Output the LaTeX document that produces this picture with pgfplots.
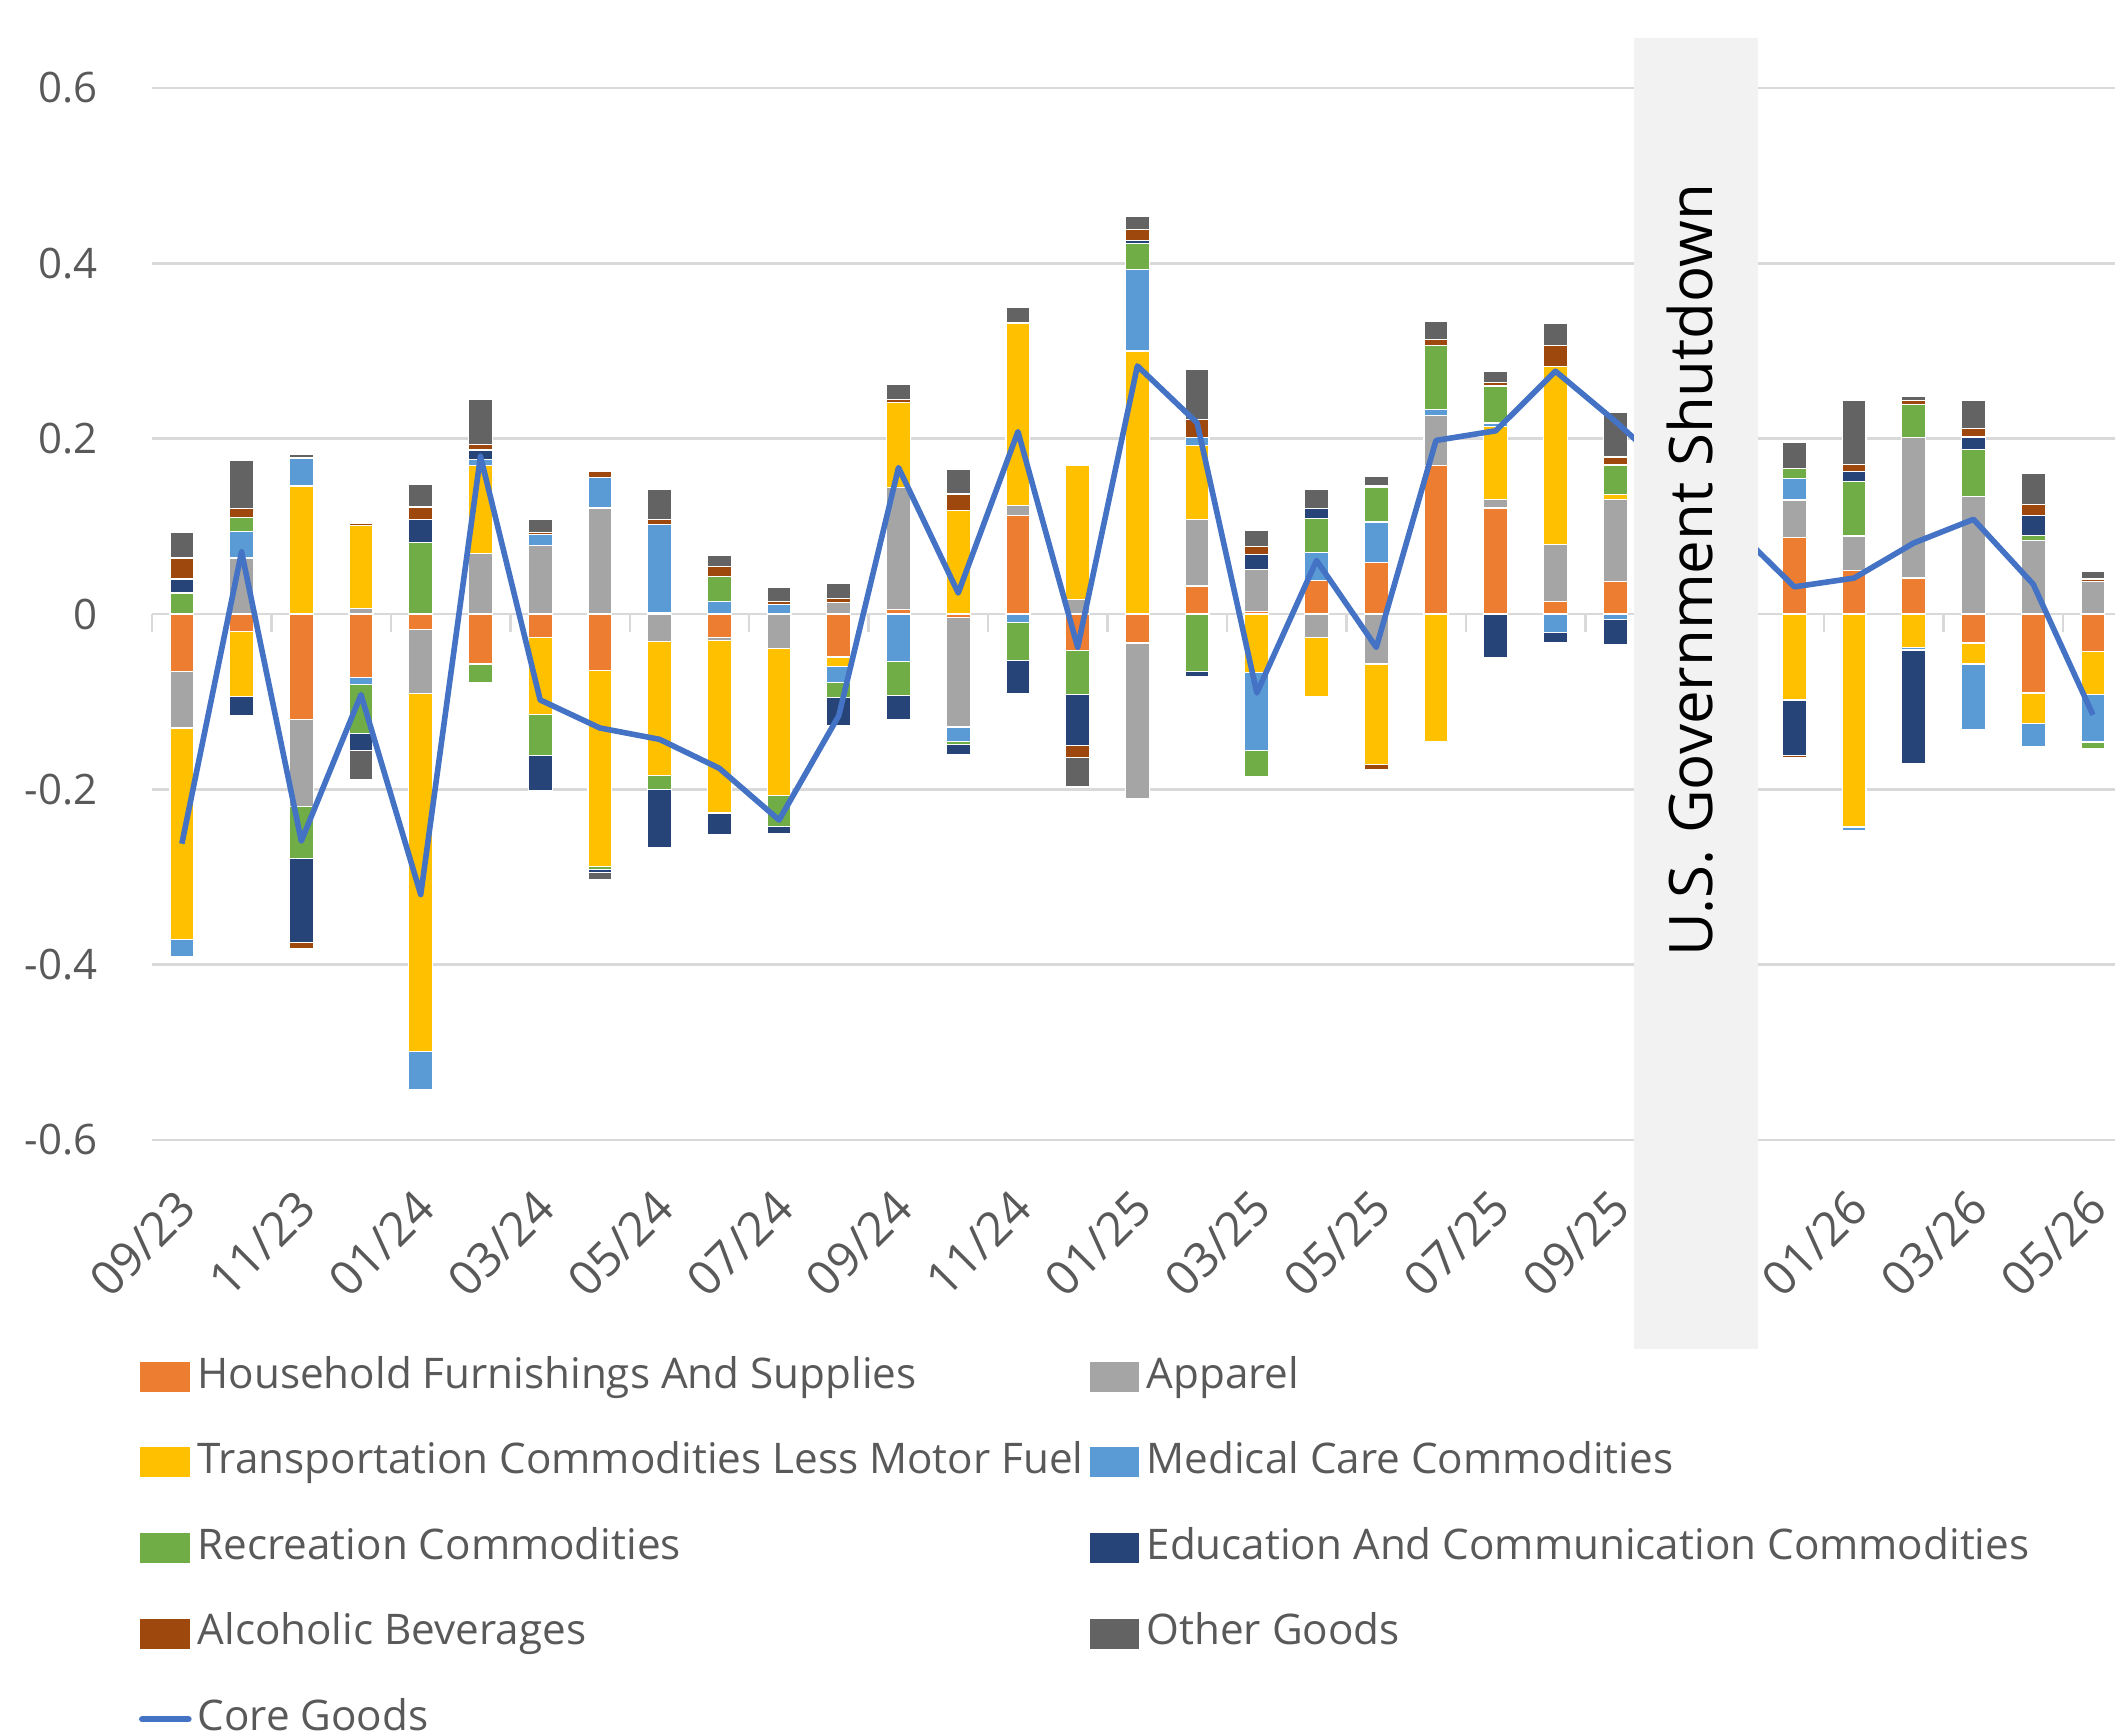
\documentclass[border=0pt]{standalone}
\usepackage{pgfplots}
\pgfplotsset{compat=1.18}
\usepackage{pgfplotstable}
\usepackage{fontspec}
\setmainfont{Open Sans}

\definecolor{cHF}{HTML}{ED7D31}
\definecolor{cAP}{HTML}{A5A5A5}
\definecolor{cTR}{HTML}{FFC000}
\definecolor{cMC}{HTML}{5B9BD5}
\definecolor{cRC}{HTML}{70AD47}
\definecolor{cED}{HTML}{264478}
\definecolor{cAL}{HTML}{9E480E}
\definecolor{cOT}{HTML}{636363}
\definecolor{coreblue}{HTML}{4472C4}
\definecolor{gridgray}{HTML}{D9D9D9}
\definecolor{labelgray}{HTML}{595959}
\definecolor{shutgray}{HTML}{F2F2F2}

% contributions to core goods CPI (pp), 09/23 = 0 ... 05/26 = 32
\pgfplotstableread{
x hf ap tr mc rc ed al ot core
0 -0.066 -0.064 -0.241 -0.020 0.024 0.016 0.024 0.029 -0.262
1 -0.020 0.064 -0.074 0.030 0.016 -0.022 0.010 0.055 0.071
2 -0.120 -0.100 0.146 0.032 -0.059 -0.096 -0.007 0.004 -0.259
3 -0.072 0.006 0.095 -0.008 -0.056 -0.020 0.002 -0.033 -0.092
4 -0.018 -0.073 -0.408 -0.044 0.082 0.026 0.014 0.026 -0.320
5 -0.057 0.069 0.100 0.007 -0.021 0.011 0.006 0.052 0.180
6 -0.027 0.078 -0.088 0.013 -0.046 -0.041 0.002 0.015 -0.098
7 -0.064 0.121 -0.224 0.035 -0.003 -0.004 0.007 -0.008 -0.130
8 0.002 -0.031 -0.153 0.100 -0.016 -0.066 0.006 0.034 -0.143
9 -0.027 -0.003 -0.197 0.014 0.029 -0.025 0.011 0.013 -0.176
10 0 -0.039 -0.168 0.011 -0.035 -0.009 0.003 0.016 -0.235
11 -0.049 0.013 -0.011 -0.018 -0.017 -0.032 0.005 0.017 -0.116
12 0.005 0.139 0.097 -0.054 -0.039 -0.027 0.004 0.017 0.167
13 -0.004 -0.125 0.118 -0.016 -0.004 -0.011 0.019 0.028 0.024
14 0.112 0.012 0.208 -0.010 -0.043 -0.038 0 0.018 0.208
15 -0.042 0.017 0.152 0 -0.050 -0.058 -0.014 -0.033 -0.038
16 -0.033 -0.177 0.300 0.093 0.030 0.003 0.013 0.015 0.283
17 0.032 0.076 0.084 0.009 -0.066 -0.005 0.021 0.057 0.218
18 0.003 0.048 -0.067 -0.089 -0.030 0.017 0.009 0.018 -0.090
19 0.038 -0.027 -0.067 0.032 0.039 0.011 0 0.022 0.061
20 0.059 -0.057 -0.115 0.046 0.040 0.001 -0.005 0.011 -0.038
21 0.169 0.057 -0.145 0.007 0.073 0 0.007 0.021 0.198
22 0.121 0.010 0.083 0.004 0.042 -0.050 0.004 0.013 0.209
23 0.014 0.065 0.203 -0.021 0 -0.012 0.024 0.025 0.277
24 0.037 0.094 0.005 -0.006 0.034 -0.029 0.009 0.051 0.220
25 0 0 0 0 0 0 0 0 0.158
26 0 0 0 0 0 0 0 0 0.098
27 0.087 0.043 -0.098 0.025 0.011 -0.063 -0.003 0.030 0.031
28 0.050 0.039 -0.243 -0.004 0.062 0.012 0.008 0.073 0.041
29 0.041 0.160 -0.038 -0.003 0.038 -0.130 0.005 0.004 0.081
30 -0.033 0.134 -0.024 -0.075 0.054 0.014 0.010 0.032 0.108
31 -0.090 0.084 -0.035 -0.026 0.006 0.022 0.013 0.035 0.034
32 -0.043 0.037 -0.049 -0.054 -0.007 0 0.003 0.009 -0.115
}\goods

\pgfplotsset{
  base/.style={
    scale only axis, width=490.75pt, height=263pt,
    at={(0,0)}, anchor=south west,
    xmin=-0.5, xmax=32.37, ymin=-0.6, ymax=0.6,
  },
  seg/.style={fill=#1, draw=white, line width=0.3pt},
}

\begin{document}
\begin{tikzpicture}
\useasboundingbox (-38pt,-148.5pt) rectangle (490.75pt,285pt);

% positive parts, grid, labels, legend
\begin{axis}[base,
  ybar stacked, bar width=0.4,
  axis line style={draw=none},
  major tick length=0pt,
  ymajorgrids, grid style={gridgray, line width=0.6pt},
  ytick={-0.6,-0.4,-0.2,0,0.2,0.4,0.6},
  yticklabels={-0.6,-0.4,-0.2,0,0.2,0.4,0.6},
  xtick={0,2,...,32},
  xticklabels={09/23,11/23,01/24,03/24,05/24,07/24,09/24,11/24,01/25,03/25,05/25,07/25,09/25,11/25,01/26,03/26,05/26},
  tick label style={font=\fontsize{10.5}{12}\selectfont, text=labelgray},
  yticklabel style={anchor=east, inner sep=0pt, xshift=-13.4pt},
  xticklabel style={font=\fontsize{11.8}{13}\selectfont, xshift=-1.8pt, yshift=-11.5pt, rotate=45, anchor=north east, inner sep=0pt},
  legend columns=2,
  legend cell align=left,
  legend image code/.code={\fill[#1] (0pt,-3.9pt) rectangle (12.75pt,3.9pt);},
  legend style={at={(-0.0066,-0.2061)}, anchor=north west, draw=none, fill=none,
    inner sep=0pt, outer sep=0pt, row sep=11.4pt,
    font=\fontsize{10.55}{12}\selectfont, text=labelgray,
    nodes={inner sep=0pt, text height=7.8pt, text depth=2.2pt},
    /tikz/every odd column/.append style={column sep=1.5pt},
    /tikz/every even column/.append style={column sep=1.2pt}},
]
\addplot[seg=cHF] table[x=x, y expr={max(\thisrow{hf},0)}] {\goods};
\addlegendentry{Household Furnishings And Supplies}
\addplot[seg=cAP] table[x=x, y expr={max(\thisrow{ap},0)}] {\goods};
\addlegendentry{Apparel}
\addplot[seg=cTR] table[x=x, y expr={max(\thisrow{tr},0)}] {\goods};
\addlegendentry{Transportation Commodities Less Motor Fuel}
\addplot[seg=cMC] table[x=x, y expr={max(\thisrow{mc},0)}] {\goods};
\addlegendentry{Medical Care Commodities}
\addplot[seg=cRC] table[x=x, y expr={max(\thisrow{rc},0)}] {\goods};
\addlegendentry{Recreation Commodities}
\addplot[seg=cED] table[x=x, y expr={max(\thisrow{ed},0)}] {\goods};
\addlegendentry{Education And Communication Commodities}
\addplot[seg=cAL] table[x=x, y expr={max(\thisrow{al},0)}] {\goods};
\addlegendentry{Alcoholic Beverages}
\addplot[seg=cOT] table[x=x, y expr={max(\thisrow{ot},0)}] {\goods};
\addlegendentry{Other Goods}
\addlegendimage{legend image code/.code={\draw[coreblue, line width=1.6pt, line cap=round] (0.6pt,0pt) -- (12.15pt,0pt);}}
\addlegendentry{Core Goods}
\end{axis}

% negative parts, category ticks on the zero line
\begin{axis}[base,
  ybar stacked, bar width=0.4,
  axis x line*=middle, axis y line=none,
  ytick=\empty,
  xtick={-0.5,1.5,...,31.5}, xticklabels={},
  x axis line style={draw=gridgray, line width=0.6pt},
  tick align=outside, major tick length=4.6pt,
  xtick style={draw=gridgray, line width=0.6pt},
]
\addplot[seg=cHF] table[x=x, y expr={min(\thisrow{hf},0)}] {\goods};
\addplot[seg=cAP] table[x=x, y expr={min(\thisrow{ap},0)}] {\goods};
\addplot[seg=cTR] table[x=x, y expr={min(\thisrow{tr},0)}] {\goods};
\addplot[seg=cMC] table[x=x, y expr={min(\thisrow{mc},0)}] {\goods};
\addplot[seg=cRC] table[x=x, y expr={min(\thisrow{rc},0)}] {\goods};
\addplot[seg=cED] table[x=x, y expr={min(\thisrow{ed},0)}] {\goods};
\addplot[seg=cAL] table[x=x, y expr={min(\thisrow{al},0)}] {\goods};
\addplot[seg=cOT] table[x=x, y expr={min(\thisrow{ot},0)}] {\goods};
\end{axis}

% core goods line and shutdown band
\begin{axis}[base, hide axis, clip=false]
\addplot[coreblue, line width=1.4pt, line join=round, mark=none] table[x=x, y=core] {\goods};
\fill[shutgray] (axis cs:24.32,0.657) rectangle (axis cs:26.40,-0.838);
\node[rotate=90, inner sep=0pt, text=black, font=\fontsize{15}{18}\selectfont]
  at (axis cs:25.25,0.05) {U.S. Government Shutdown};
\end{axis}
\end{tikzpicture}
\end{document}
